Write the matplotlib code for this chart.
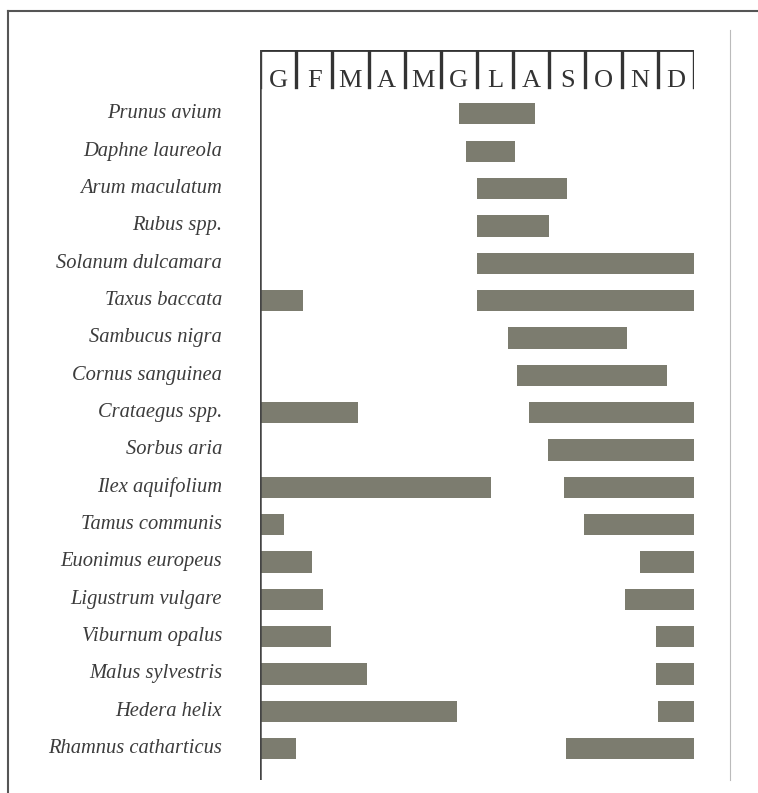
import matplotlib
matplotlib.use('Agg')
import matplotlib.pyplot as plt

# Specie (dall'alto in basso) e periodi di fruttificazione, in mesi (0 = inizio gennaio)
species = ['Prunus avium', 'Daphne laureola', 'Arum maculatum', 'Rubus spp.',
           'Solanum dulcamara', 'Taxus baccata', 'Sambucus nigra', 'Cornus sanguinea',
           'Crataegus spp.', 'Sorbus aria', 'Ilex aquifolium', 'Tamus communis',
           'Euonimus europeus', 'Ligustrum vulgare', 'Viburnum opalus', 'Malus sylvestris',
           'Hedera helix', 'Rhamnus catharticus']

# fine del periodo invernale (da gennaio), None se assente
early_end = [None, None, None, None, None, 1.2, None, None, 2.7, None, 6.4, 0.65,
             1.45, 1.75, 1.95, 2.95, 5.45, 1.0]
# periodo principale: inizio e fine
late_start = [5.5, 5.7, 6.0, 6.0, 6.0, 6.0, 6.85, 7.1, 7.45, 7.95, 8.4, 8.95,
              10.5, 10.1, 10.95, 10.95, 11.0, 8.45]
late_end = [7.6, 7.05, 8.5, 8.0, 12, 12, 10.15, 11.25, 12, 12, 12, 12,
            12, 12, 12, 12, 12, 12]

months = ['G', 'F', 'M', 'A', 'M', 'G', 'L', 'A', 'S', 'O', 'N', 'D']

bar_color = '#7c7c6f'
line_color = '#333333'

fig = plt.figure(figsize=(7.58, 7.93), dpi=100)
ax = fig.add_axes([260 / 758, 1 - 780 / 793, 434 / 758, 730 / 793])

n = len(species)
for i in range(n):
    if early_end[i] is not None:
        ax.barh(i, early_end[i], left=0, height=0.57, color=bar_color, edgecolor='none')
    ax.barh(i, late_end[i] - late_start[i], left=late_start[i], height=0.57,
            color=bar_color, edgecolor='none')

ax.set_xlim(0, 12)
ax.set_ylim(17.84, -1.71)
ax.axis('off')

# intestazione dei mesi
top = -1.71
tick_bottom = -0.72
ax.plot([0, 12], [top, top], color=line_color, lw=2, solid_capstyle='projecting')
for m in range(13):
    ax.plot([m, m], [top, tick_bottom], color=line_color, lw=2.4)
ax.plot([0, 0], [top, 17.84], color='#444444', lw=1.8)
for m, lab in enumerate(months):
    ax.text(m + 0.5, -0.73, lab, ha='center', va='baseline', fontsize=19,
            family='Liberation Serif', color='#333333')

# etichette delle specie
for i, name in enumerate(species):
    ax.text(-38 / 36.17, i, name, ha='right', va='center', fontsize=14.8,
            family='Liberation Serif', style='italic', color='#3c3c3c')

# cornice esterna e linea a destra
fig.add_artist(plt.Line2D([8 / 758, 1], [1 - 11 / 793, 1 - 11 / 793], color='#555555', lw=1.5))
fig.add_artist(plt.Line2D([8 / 758, 8 / 758], [0, 1 - 11 / 793], color='#555555', lw=1.5))
fig.add_artist(plt.Line2D([730 / 758, 730 / 758], [1 - 780 / 793, 1 - 30 / 793],
                          color='#bbbbbb', lw=0.8))

fig.savefig('out.png', dpi=100, facecolor='white')
